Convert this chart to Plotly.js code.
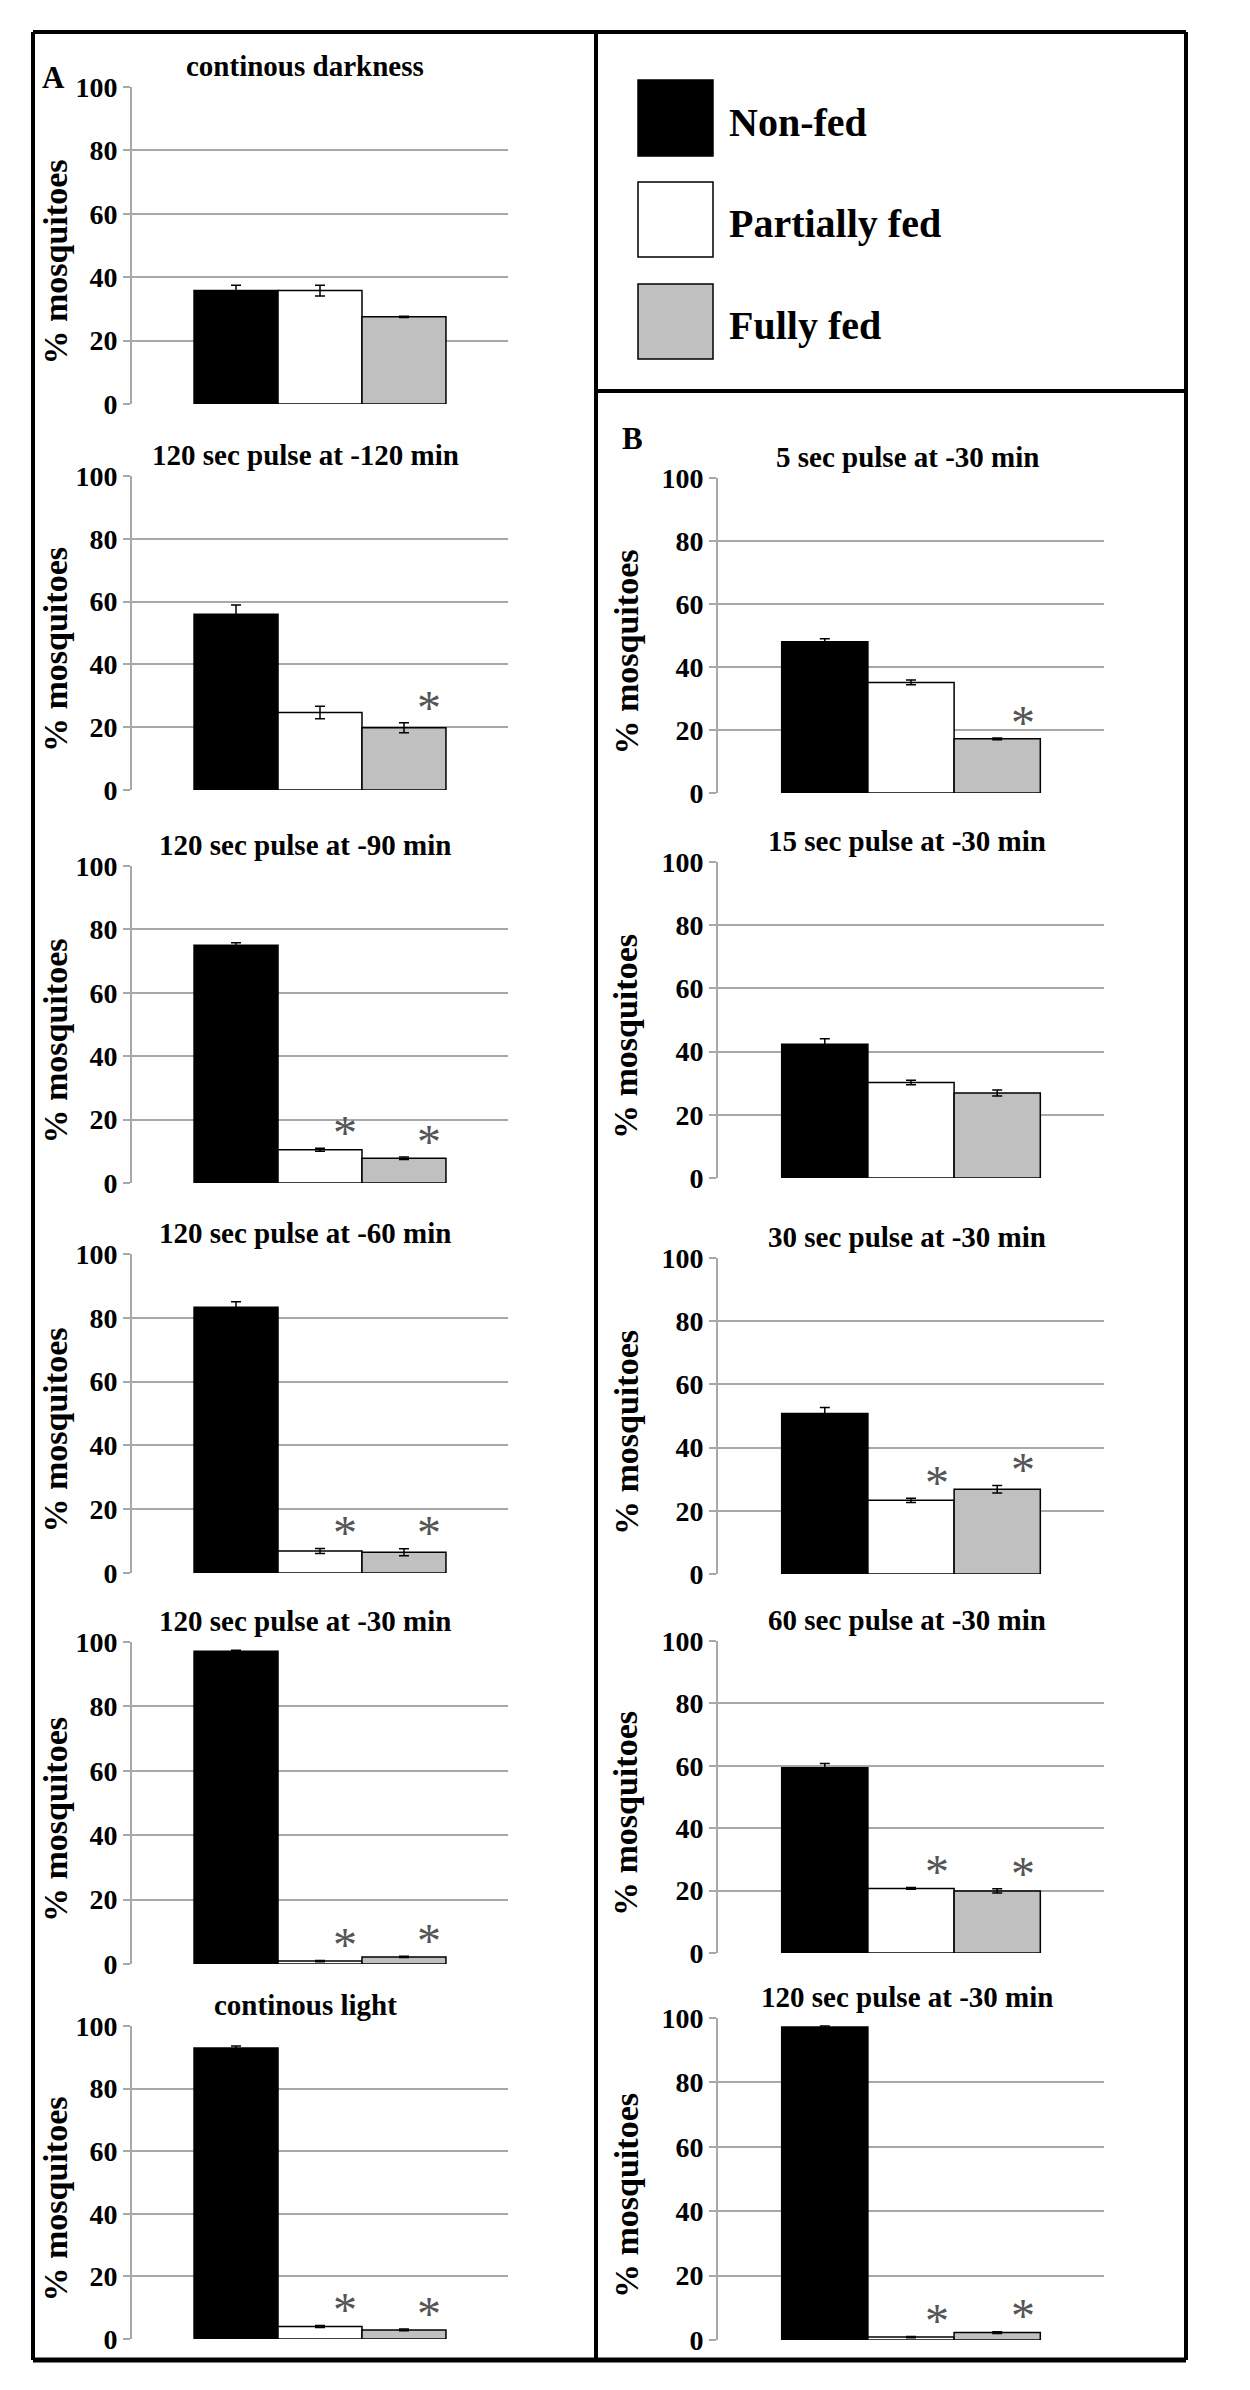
<!DOCTYPE html>
<html>
<head>
<meta charset="utf-8">
<script src="https://cdn.plot.ly/plotly-3.0.1.min.js"></script>
<style>
  html, body { margin: 0; padding: 0; background: #fff; }
  #chart { width: 1250px; height: 2390px; }
</style>
</head>
<body>
<div id="chart"></div>
<script>
// ---------------- DATA ----------------
const seriesNames = ['Non-fed', 'Partially fed', 'Fully fed'];
const panelTitles = [
  'continous darkness',
  '120 sec pulse at -120 min',
  '120 sec pulse at -90 min',
  '120 sec pulse at -60 min',
  '120 sec pulse at -30 min',
  'continous light',
  '5 sec pulse at -30 min',
  '15 sec pulse at -30 min',
  '30 sec pulse at -30 min',
  '60 sec pulse at -30 min',
  '120 sec pulse at -30 min'
];
const nonFed          = [35.8, 56.0, 75.0, 83.3, 97.1, 93.0, 48.0, 42.3, 50.8, 59.4, 97.2];
const partiallyFed    = [35.8, 24.7, 10.5,  6.9,  0.9,  4.0, 35.1, 30.2, 23.3, 20.7,  0.9];
const fullyFed        = [27.5, 19.8,  7.8,  6.5,  2.2,  2.9, 17.2, 26.9, 26.8, 19.9,  2.3];
const nonFedErr       = [1.7, 2.9, 0.8, 1.7, 0.3, 0.6, 1.0, 1.8, 1.9, 1.3, 0.3];
const partiallyFedErr = [1.7, 2.0, 0.5, 0.8, 0.2, 0.3, 0.75, 0.7, 0.7, 0.3, 0.2];
const fullyFedErr     = [0.2, 1.6, 0.4, 1.1, 0.2, 0.3, 0.3, 0.95, 1.2, 0.7, 0.3];
const partiallyFedSig = [false, false, true, true, true, true, false, false, true, true, true];
const fullyFedSig     = [false, true, true, true, true, true, true, false, true, true, true];
const yTickVals = [0, 20, 40, 60, 80, 100];
const yAxisTitle = '% mosquitoes';
const panelLetters = ['A', 'B'];

// ---------------- STYLE / LAYOUT ----------------
const W = 1250, H = 2390;
const FONT = 'Liberation Serif, Times New Roman, serif';
const seriesColors = ['#000000', '#ffffff', '#c0c0c0'];
const GRID = '#a8a8a8';
const BARGAP = 0.33;
const px = x => x / W;
const py = y => 1 - y / H;

// panel boxes in pixels: [left, right, top(100), bottom(0)]
const boxes = [
  [132, 508, 87, 404],
  [132, 508, 476, 790],
  [132, 508, 866, 1183],
  [132, 508, 1254, 1573],
  [132, 508, 1642, 1964],
  [132, 508, 2026, 2339],
  [718, 1104, 478, 793],
  [718, 1104, 862, 1178],
  [718, 1104, 1258, 1574],
  [718, 1104, 1641, 1953],
  [718, 1104, 2018, 2340]
];

const values = [nonFed, partiallyFed, fullyFed];
const errs = [nonFedErr, partiallyFedErr, fullyFedErr];
const sigs = [null, partiallyFedSig, fullyFedSig];

const traces = [];
const layout = {
  width: W, height: H,
  margin: {l: 0, r: 0, t: 0, b: 0},
  paper_bgcolor: '#fff', plot_bgcolor: '#fff',
  showlegend: false,
  barmode: 'group', bargap: BARGAP, bargroupgap: 0,
  font: {family: FONT, color: '#000'},
  annotations: [], shapes: []
};

const barW = (1 - BARGAP) / 3;

boxes.forEach((b, i) => {
  const n = i + 1;
  const xa = 'x' + (n === 1 ? '' : n), ya = 'y' + (n === 1 ? '' : n);
  const xkey = 'xaxis' + (n === 1 ? '' : n), ykey = 'yaxis' + (n === 1 ? '' : n);
  seriesNames.forEach((name, s) => {
    traces.push({
      type: 'bar', name: name, x: [0], y: [values[s][i]],
      xaxis: xa, yaxis: ya,
      marker: {color: seriesColors[s], line: {color: '#000', width: 1.5}},
      error_y: {type: 'data', array: [errs[s][i]], visible: true, color: '#000', thickness: 1.5, width: 5},
      hoverinfo: 'skip'
    });
    if (sigs[s] && sigs[s][i]) {
      layout.annotations.push({
        xref: xa, yref: ya,
        x: (s - 1) * barW + 0.3 * barW,
        y: values[s][i] + errs[s][i] + 5,
        text: '*', showarrow: false,
        font: {family: FONT, size: 48, color: '#555555'},
        xanchor: 'center', yanchor: 'middle'
      });
    }
  });
  layout[xkey] = {
    domain: [px(b[0]), px(b[1])], range: [-0.5, 0.5], anchor: ya,
    showgrid: false, zeroline: false, showticklabels: false, showline: false, fixedrange: true
  };
  layout[ykey] = {
    domain: [py(b[3]), py(b[2])], range: [0, 100], anchor: xa,
    tickvals: yTickVals, ticktext: yTickVals.map(String),
    showgrid: true, gridcolor: GRID, gridwidth: 2,
    showline: true, linecolor: GRID, linewidth: 2,
    ticks: 'outside', ticklen: 7, tickwidth: 2, tickcolor: GRID,
    tickfont: {family: FONT, size: 28, color: '#000', weight: 'bold'},
    zeroline: false, fixedrange: true
  };
  // panel title
  const titleX = i < 6 ? 305 : 907;
  layout.annotations.push({
    xref: 'paper', yref: 'paper', x: px(titleX), y: py(b[2] - 21),
    text: '<b>' + panelTitles[i] + '</b>', showarrow: false,
    font: {family: FONT, size: 29, color: '#000'}, xanchor: 'center', yanchor: 'middle'
  });
  // y axis title
  const ytX = i < 6 ? 55 : 626;
  layout.annotations.push({
    xref: 'paper', yref: 'paper', x: px(ytX), y: py((b[2] + b[3]) / 2 + 17),
    text: '<b>' + yAxisTitle + '</b>', showarrow: false, textangle: -90,
    font: {family: FONT, size: 34, color: '#000'}, xanchor: 'center', yanchor: 'middle'
  });
});

// panel letters
layout.annotations.push({xref: 'paper', yref: 'paper', x: px(53), y: py(78), text: '<b>' + panelLetters[0] + '</b>',
  showarrow: false, font: {family: FONT, size: 31, color: '#000'}, xanchor: 'center', yanchor: 'middle'});
layout.annotations.push({xref: 'paper', yref: 'paper', x: px(632), y: py(439), text: '<b>' + panelLetters[1] + '</b>',
  showarrow: false, font: {family: FONT, size: 31, color: '#000'}, xanchor: 'center', yanchor: 'middle'});

// frame lines
const addLine = (x0, y0, x1, y1, w) => layout.shapes.push({
  type: 'line', xref: 'paper', yref: 'paper', x0: px(x0), y0: py(y0), x1: px(x1), y1: py(y1),
  line: {color: '#000', width: w || 4}
});
addLine(33, 32, 1186, 32);
addLine(33, 32, 33, 2360);
addLine(1186, 32, 1186, 2360);
addLine(33, 2360, 1186, 2360, 5);
addLine(596, 32, 596, 2360);
addLine(596, 391, 1186, 391);

// legend box entries (colors from series)
const legendSq = [[80, 156], [182, 257], [284, 359]];
seriesNames.forEach((name, s) => {
  layout.shapes.push({
    type: 'rect', xref: 'paper', yref: 'paper',
    x0: px(638), x1: px(713), y0: py(legendSq[s][1]), y1: py(legendSq[s][0]),
    fillcolor: seriesColors[s], line: {color: '#000', width: 1.5}
  });
  layout.annotations.push({
    xref: 'paper', yref: 'paper', x: px(727), y: py((legendSq[s][0] + legendSq[s][1]) / 2 + 4),
    text: '<b>' + name + '</b>', showarrow: false,
    font: {family: FONT, size: 40, color: '#000'}, xanchor: 'left', yanchor: 'middle'
  });
});

Plotly.newPlot('chart', traces, layout, {displayModeBar: false, staticPlot: true});
</script>
</body>
</html>
